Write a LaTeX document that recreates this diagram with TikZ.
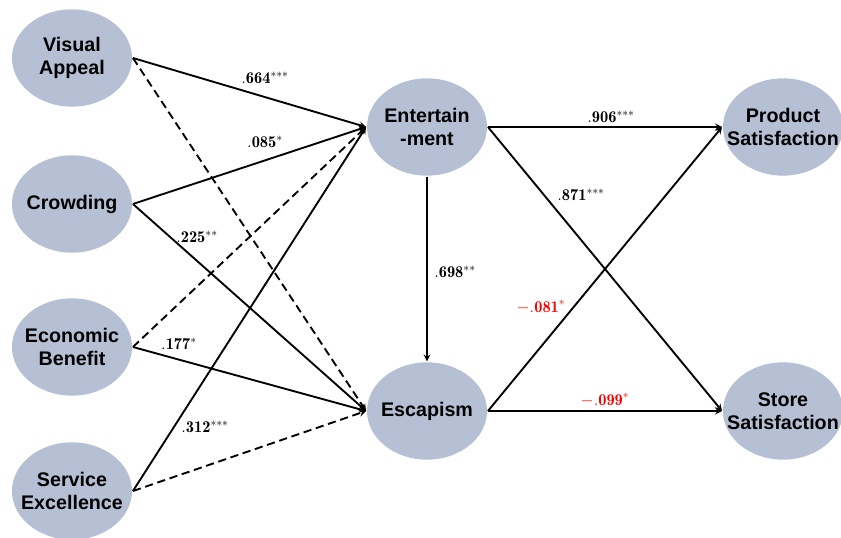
\documentclass[tikz,border=0pt]{standalone}
\usepackage{fontspec}
\usepackage{xcolor}
\usetikzlibrary{shapes, positioning}
\newfontfamily\arialnegrito{Liberation Sans}[BoldFont={Liberation Sans Bold}]
\definecolor{cinza}{RGB}{182,192,212}
\newcommand{\linha}[1]{\makebox[0pt]{#1}}

\begin{document}
\begin{tikzpicture}[> = stealth, x=0.03cm, y=-0.03cm, line width=1.6pt,
		construto/.style={ellipse, fill=cinza, minimum width=3.6cm, minimum height=2.92cm,
			inner sep=0pt, align=center, font=\arialnegrito\bfseries\fontsize{16.8}{19.6}\selectfont},
		coef/.style={inner sep=1pt, font=\fontsize{14}{16}\selectfont},
		naosig/.style={dash pattern=on 7pt off 4pt}]
	\useasboundingbox (0,0) rectangle (841,538);
	% variáveis exógenas
	\node [construto] (va) at (72,58) {\linha{Visual}\\\linha{Appeal}};
	\node [construto] (cr) at (72,204) {\linha{Crowding}};
	\node [construto] (eb) at (72,347) {\linha{Economic}\\\linha{Benefit}};
	\node [construto] (se) at (72,491) {\linha{Service}\\\linha{Excellence}};
	% mediadores
	\node [construto] (ent) at (427,127) {\linha{Entertain}\\\linha{-ment}};
	\node [construto] (esc) at (427,411) {\linha{Escapism}};
	% satisfação
	\node [construto] (ps) at (783,127) {\linha{Product}\\\linha{Satisfaction}};
	\node [construto] (ss) at (783,411) {\linha{Store}\\\linha{Satisfaction}};
	
	% caminhos significativos
	\draw [->] (va.east) -- (ent.west);
	\draw [->] (cr.east) -- (ent.west);
	\draw [->] (cr.east) -- (esc.west);
	\draw [->] (eb.east) -- (esc.west);
	\draw [->] (se.east) -- (ent.west);
	\draw [->] (ent.south) -- (esc.north);
	\draw [->] (ent.east) -- (ps.west);
	\draw [->] (ent.east) -- (ss.west);
	\draw [->] (esc.east) -- (ps.west);
	\draw [->] (esc.east) -- (ss.west);
	
	% caminhos não significativos
	\draw [->, naosig] (va.east) -- (esc.west);
	\draw [->, naosig] (eb.east) -- (ent.west);
	\draw [->, naosig] (se.east) -- (esc.west);
	
	% coeficientes
	\node [coef] (c664) at (265,78) {$\mathbf{.664}^{***}$};
	\node [coef] (c085) at (265,142) {$\mathbf{.085}^{*}$};
	\node [coef] (c225) at (197,237) {$\mathbf{.225}^{**}$};
	\node [coef] (c177) at (179,344) {$\mathbf{.177}^{*}$};
	\node [coef] (c312) at (205,427) {$\mathbf{.312}^{***}$};
	\node [coef] (c698) at (455,272) {$\mathbf{.698}^{**}$};
	\node [coef] (c906) at (611,117) {$\mathbf{.906}^{***}$};
	\node [coef] (c871) at (581,195) {$\mathbf{.871}^{***}$};
	\node [coef, text=red] (c081) at (541,307) {$\mathbf{-.081}^{*}$};
	\node [coef, text=red] (c099) at (605,400) {$\mathbf{-.099}^{*}$};
\end{tikzpicture}
\end{document}
